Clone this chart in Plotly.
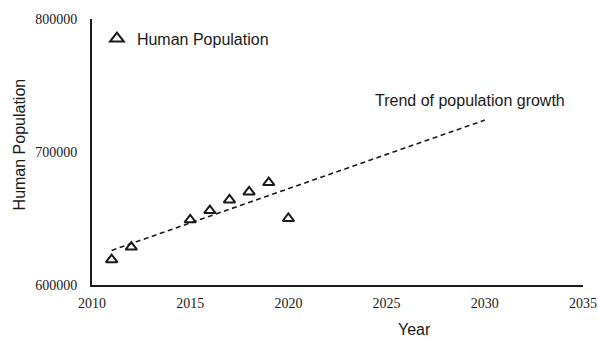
import plotly.graph_objects as go

# Observed population by year
years = [2011, 2012, 2015, 2016, 2017, 2018, 2019, 2020]
population = [619000, 628500, 649000, 656000, 664000, 670000, 677000, 650000]

# Linear trend endpoints
trend_years = [2011, 2030]
trend_values = [626000, 724000]

x_ticks = [2010, 2015, 2020, 2025, 2030, 2035]
y_ticks = [600000, 700000, 800000]

sans = "Liberation Sans, Arial, sans-serif"
serif = "Liberation Serif, Times New Roman, serif"
ink = "#1a1a1a"

fig = go.Figure()

fig.add_trace(go.Scatter(
    x=trend_years, y=trend_values, mode="lines",
    line=dict(color=ink, width=1.6, dash="5px,3.5px"),
    showlegend=False, hoverinfo="skip",
))

fig.add_trace(go.Scatter(
    x=years, y=population, mode="markers", name="Human Population",
    marker=dict(symbol="triangle-up-open", size=10, color=ink,
                line=dict(width=2, color=ink)),
))

fig.update_layout(
    width=598, height=338,
    margin=dict(l=92, r=15, t=19, b=53),
    paper_bgcolor="white", plot_bgcolor="white",
    font=dict(family=sans, color=ink, size=16),
    showlegend=True,
    legend=dict(x=0.01, y=0.99, xanchor="left", yanchor="top",
                bgcolor="rgba(0,0,0,0)", font=dict(size=16, family=sans),
                itemwidth=30, itemsizing="constant"),
    xaxis=dict(range=[2010, 2035], tickvals=x_ticks,
               ticktext=[str(v) for v in x_ticks],
               showgrid=False, zeroline=False, showline=True,
               linecolor=ink, linewidth=2, ticks="", automargin=False,
               ticklabelstandoff=4,
               tickfont=dict(family=serif, size=14, color=ink)),
    yaxis=dict(range=[600000, 800000], tickvals=y_ticks,
               ticktext=[str(v) for v in y_ticks],
               showgrid=False, zeroline=False, showline=True,
               linecolor=ink, linewidth=2, ticks="", automargin=False,
               ticklabelstandoff=10,
               tickfont=dict(family=serif, size=14, color=ink)),
    annotations=[
        dict(text="Trend of population growth", x=2024.3, y=739000,
             xref="x", yref="y", xanchor="left", yanchor="middle",
             showarrow=False, font=dict(size=16, family=sans, color=ink)),
        dict(text="Year", x=2026.4, y=0, xref="x", yref="paper",
             xanchor="center", yanchor="middle", yshift=-44,
             showarrow=False, font=dict(size=16, family=sans, color=ink)),
        dict(text="Human Population", x=0, y=705700, xref="paper", yref="y",
             xanchor="center", yanchor="middle", xshift=-73, textangle=-90,
             showarrow=False, font=dict(size=16, family=sans, color=ink)),
    ],
)

fig.write_html("out.html")
